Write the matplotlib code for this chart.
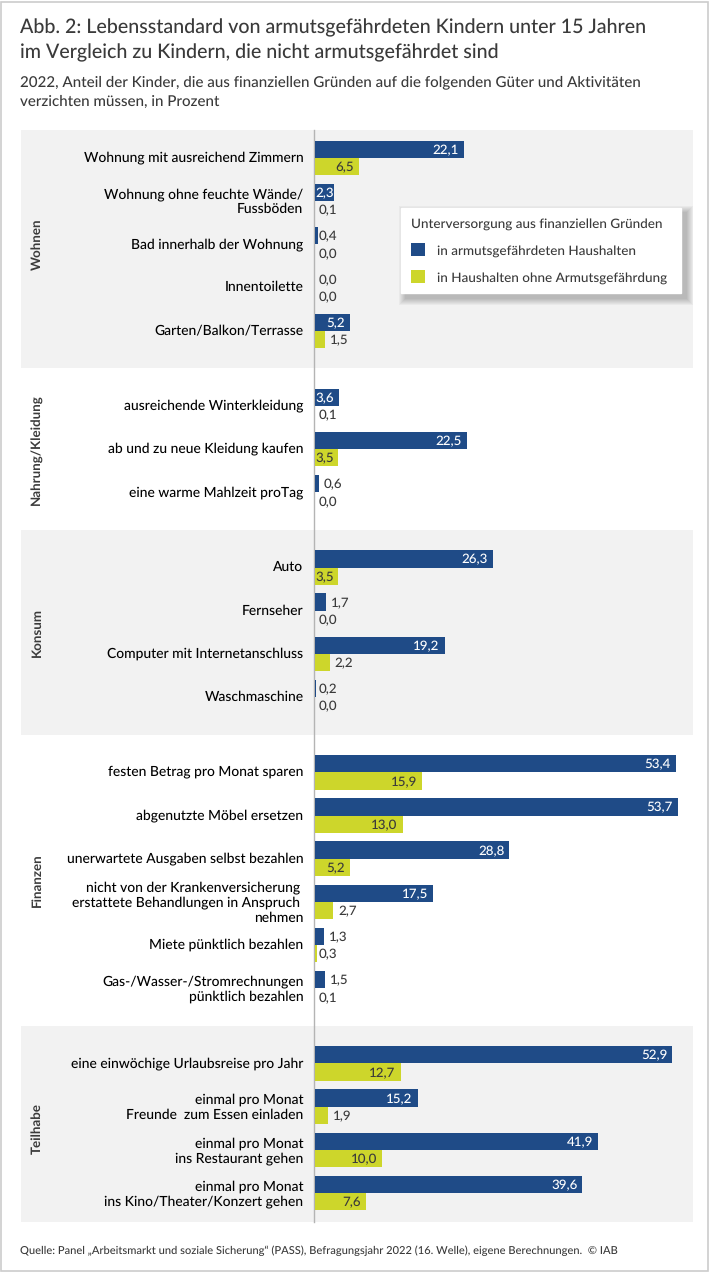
import matplotlib
matplotlib.use("Agg")
import matplotlib.pyplot as plt
from matplotlib.patches import Rectangle
from matplotlib.transforms import ScaledTranslation

plt.rcParams['font.family'] = ['Lato', 'DejaVu Sans']
plt.rcParams['font.weight'] = 500
plt.rcParams['text.hinting'] = 'no_hinting'

W, H = 710, 1273
TXT = "#3a3a3a"; BLUE = "#1f4b87"; LIME = "#cdd62b"; BAND = "#f2f2f2"

title = "Abb. 2: Lebensstandard von armutsgefährdeten Kindern unter 15 Jahren\nim Vergleich zu Kindern, die nicht armutsgefährdet sind"
subtitle = "2022, Anteil der Kinder, die aus finanziellen Gründen auf die folgenden Güter und Aktivitäten\nverzichten müssen, in Prozent"
source = "Quelle: Panel „Arbeitsmarkt und soziale Sicherung“ (PASS), Befragungsjahr 2022 (16. Welle), eigene Berechnungen.  © IAB"
legend_title = "Unterversorgung aus finanziellen Gründen"
series_names = ["in armutsgefährdeten Haushalten", "in Haushalten ohne Armutsgefährdung"]

groups = ["Wohnen", "Nahrung/Kleidung", "Konsum", "Finanzen", "Teilhabe"]
group_sizes = [5, 3, 4, 6, 4]
labels = ["Wohnung mit ausreichend Zimmern", "Wohnung ohne feuchte Wände/\nFussböden", "Bad innerhalb der Wohnung",
          "Innentoilette", "Garten/Balkon/Terrasse",
          "ausreichende Winterkleidung", "ab und zu neue Kleidung kaufen", "eine warme Mahlzeit proTag",
          "Auto", "Fernseher", "Computer mit Internetanschluss", "Waschmaschine",
          "festen Betrag pro Monat sparen", "abgenutzte Möbel ersetzen", "unerwartete Ausgaben selbst bezahlen",
          "nicht von der Krankenversicherung \nerstattete Behandlungen in Anspruch \nnehmen",
          "Miete pünktlich bezahlen", "Gas-/Wasser-/Stromrechnungen\npünktlich bezahlen",
          "eine einwöchige Urlaubsreise pro Jahr", "einmal pro Monat\nFreunde  zum Essen einladen",
          "einmal pro Monat\nins Restaurant gehen", "einmal pro Monat\nins Kino/Theater/Konzert gehen"]
poor = [22.1, 2.3, 0.4, 0.0, 5.2, 3.6, 22.5, 0.6, 26.3, 1.7, 19.2, 0.2, 53.4, 53.7, 28.8, 17.5, 1.3, 1.5, 52.9, 15.2, 41.9, 39.6]
notpoor = [6.5, 0.1, 0.0, 0.0, 1.5, 0.1, 3.5, 0.0, 3.5, 0.0, 2.2, 0.0, 15.9, 13.0, 5.2, 2.7, 0.3, 0.1, 12.7, 1.9, 10.0, 7.6]
# the 2,3 bar is drawn longer than its label in the original
poor_bars = list(poor); poor_bars[1] = 2.85

# pixel layout of the plot area
PX_UNIT = 6.76; ROW = 43.2; GAP = 0.74; X0 = 314.8; Y0 = 158
L, R, T, B = 21, 692.5, 130, 1222

fig = plt.figure(figsize=(W / 100, H / 100), dpi=100)
ax = fig.add_axes([L / W, 1 - B / H, (R - L) / W, (B - T) / H])
ax.set_xlim((L - X0) / PX_UNIT, (R - X0) / PX_UNIT)
ax.set_ylim((B - Y0) / ROW, (T - Y0) / ROW)

# row positions, extra gap between the groups
ys = []; starts = []; y = 0
for n in group_sizes:
    starts.append(len(ys))
    ys += [y + i for i in range(n)]
    y += n + GAP

bh = 17.3 / ROW
b1 = ax.barh([v - bh / 2 for v in ys], poor_bars, height=bh, color=BLUE, label=series_names[0], zorder=2)
b2 = ax.barh([v + bh / 2 for v in ys], notpoor, height=bh, color=LIME, label=series_names[1], zorder=2)

def put_values(vals, off, inside_from, col):
    for yy, v in zip(ys, vals):
        s = f"{v:.1f}".replace(".", ",")
        if v >= inside_from:
            ax.text(max(v - 0.75, 2.85), yy + off, s, ha="right", va="center_baseline", color=col, fontsize=9.6, zorder=3)
        else:
            ax.text(0.6 if v < 0.5 else v + 0.72, yy + off, s, ha="left", va="center_baseline", color=TXT, fontsize=9.6, zorder=3)

put_values(poor, -bh / 2, 2.3, "white")
put_values(notpoor, bh / 2, 3.5, TXT)

# grey bands + rotated group names
for g, (name, s, n) in enumerate(zip(groups, starts, group_sizes)):
    first, last = ys[s], ys[s + n - 1]
    if g % 2 == 0:
        ax.axhspan(first - (28 if g == 0 else 37.5) / ROW, last + (29 if g == 4 else 37.5) / ROW, color=BAND, lw=0, zorder=0)
    ax.text((37 - L) / (R - L), (first + last) / 2, name, transform=ax.get_yaxis_transform(), rotation=90,
            ha="center", va="center", color=TXT, fontsize=9.6, fontweight="bold")

ax.set_xticks([])
ax.set_yticks(ys)
ax.set_yticklabels(labels, fontsize=9.15, color=TXT, linespacing=1.48)
ax.tick_params(axis="y", length=0, pad=7.8)
ax.patch.set_visible(False)
for k in ["top", "right", "bottom"]:
    ax.spines[k].set_visible(False)
ax.spines["left"].set_position(("data", -0.07))
ax.spines["left"].set_color("#b4b4b4")
ax.spines["left"].set_linewidth(1.0)
ax.spines["left"].set_zorder(1)

# labels sit a little above the row centre
up = ScaledTranslation(0, 1.5 / 100, fig.dpi_scale_trans)
for t in ax.get_yticklabels():
    t.set_transform(t.get_transform() + up)

lx = (401 - L) / (R - L); lw_ax = 280 / (R - L); ly = 1 - (208 - T) / (B - T)
leg = ax.legend(handles=[b1, b2], title=legend_title, loc="upper left", bbox_to_anchor=(lx, ly - 0.08, lw_ax, 0.08), mode="expand",
                fontsize=9.7, title_fontsize=9.7, frameon=True, fancybox=False, framealpha=1, edgecolor="white",
                handlelength=1.06, handleheight=1.06, handletextpad=0.9, labelspacing=1.02, borderpad=0.72, borderaxespad=0, alignment="left")
leg.set_zorder(6)
for t in leg.get_texts():
    t.set_color(TXT)
leg.get_title().set_color(TXT)

# blurred drop shadow below the legend
fig.canvas.draw()
bb = leg.get_window_extent()
for i in range(7):
    grow = 7 - i
    ax.add_patch(Rectangle((bb.x0 + 5 - grow, bb.y0 - 5 - grow), bb.width + 2 * grow, bb.height + 2 * grow, transform=None,
                           facecolor="black", alpha=0.035, lw=0, zorder=5))

fig.text(20 / W, 1 - 40.5 / H, title, fontsize=14.1, color=TXT, ha="left", va="center", linespacing=1.47)
fig.text(20 / W, 1 - 92 / H, subtitle, fontsize=10.9, color=TXT, ha="left", va="center", linespacing=1.59)
fig.text(20 / W, 1 - 1250.5 / H, source, fontsize=8.0, color=TXT, ha="left", va="center")

# thin outer frame
fig.add_artist(Rectangle((1.5 / W, 1 - 1271 / H), 706.5 / W, 1269 / H, transform=fig.transFigure, fill=False, edgecolor="#cccccc", lw=1.2))

fig.savefig("out.png", dpi=100)
